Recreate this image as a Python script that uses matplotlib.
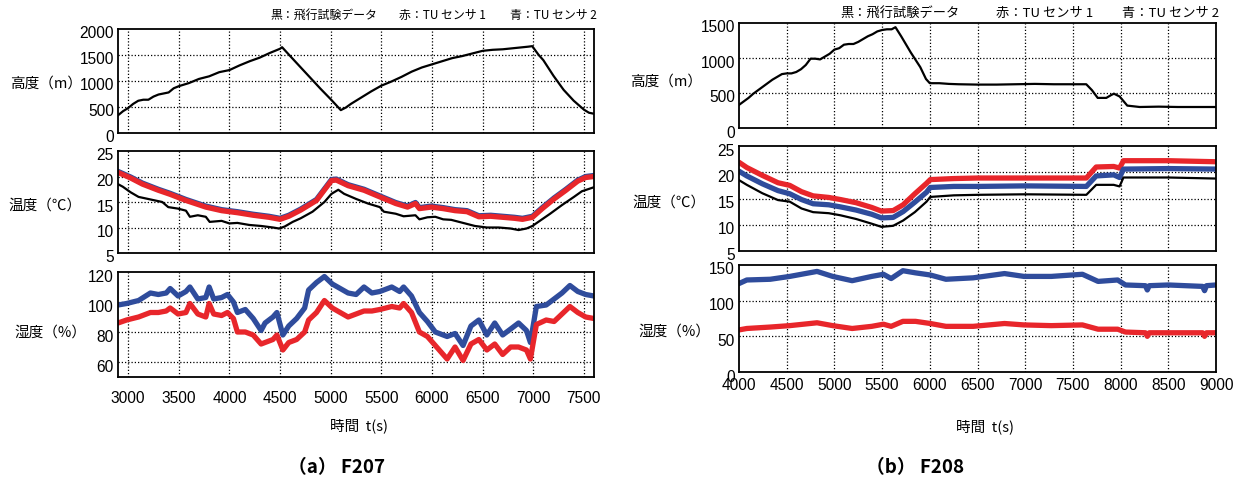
import matplotlib.pyplot as plt
from matplotlib.transforms import ScaledTranslation

plt.rcParams['font.family'] = ['Liberation Sans', 'Noto Sans CJK JP', 'DejaVu Sans']

W, H = 1234, 478
RED = '#e8262b'
BLUE = '#2f4c9c'
CJK = ['Noto Sans CJK JP', 'DejaVu Sans']

# ---- (a) F207 ----
t207_alt = [2900, 2950, 3000, 3050, 3100, 3150, 3200, 3250, 3300, 3350, 3400, 3450, 3500,
            3600, 3700, 3800, 3900, 4000, 4100, 4200, 4300, 4400, 4450, 4500, 4520, 4600,
            4700, 4800, 4900, 5000, 5100, 5150, 5200, 5300, 5400, 5500, 5600, 5700, 5800,
            5900, 6000, 6100, 6200, 6300, 6400, 6500, 6600, 6700, 6800, 6900, 6950, 6990,
            7050, 7100, 7200, 7300, 7400, 7500, 7550, 7600]
alt207 = [340, 420, 480, 560, 620, 640, 640, 700, 740, 760, 780, 860, 900,
          960, 1040, 1090, 1170, 1210, 1300, 1380, 1450, 1540, 1580, 1620, 1650, 1480,
          1270, 1060, 850, 650, 440, 490, 560, 680, 800, 910, 990, 1080, 1180,
          1260, 1320, 1380, 1440, 1480, 1530, 1580, 1600, 1610, 1630, 1650, 1660, 1670,
          1510, 1400, 1100, 830, 620, 450, 390, 370]

t207_tb = [2900, 2947, 3025, 3103, 3220, 3337, 3396, 3493, 3571, 3610, 3688, 3767, 3805,
           3923, 4000, 4079, 4196, 4313, 4430, 4490, 4547, 4625, 4703, 4821, 4938, 5008,
           5075, 5133, 5251, 5368, 5485, 5525, 5642, 5720, 5837, 5876, 5955, 6033, 6111,
           6190, 6307, 6424, 6542, 6659, 6777, 6855, 6933, 6992, 7050, 7167, 7284, 7402,
           7480, 7600]
temp207_black = [18.5, 18.0, 16.9, 16.0, 15.5, 15.0, 14.0, 13.7, 13.3, 12.1, 12.4, 12.1, 11.1,
                 11.3, 10.8, 10.9, 10.5, 10.3, 10.0, 9.8, 10.2, 11.1, 11.8, 13.1, 15.0, 16.6,
                 17.4, 16.6, 15.6, 14.7, 14.0, 13.1, 12.7, 12.2, 12.4, 11.6, 12.0, 12.1, 11.6,
                 11.5, 10.9, 10.3, 10.0, 10.0, 9.8, 9.5, 9.8, 10.3, 11.1, 12.7, 14.4, 16.0,
                 17.1, 17.9]

t207_ts = [2900, 3025, 3142, 3298, 3415, 3571, 3767, 3923, 4079, 4235, 4391, 4500, 4586,
           4703, 4860, 5008, 5055, 5172, 5329, 5485, 5642, 5759, 5837, 5876, 5993, 6111,
           6228, 6346, 6463, 6580, 6698, 6815, 6894, 6992, 7089, 7206, 7323, 7440, 7518, 7600]
temp207_red = [20.8, 19.7, 18.5, 17.3, 16.5, 15.3, 14.0, 13.3, 12.9, 12.4, 12.0, 11.6, 12.2,
               13.4, 15.3, 19.2, 19.3, 18.2, 17.3, 16.0, 14.7, 14.0, 14.7, 13.7, 14.0, 13.7,
               13.3, 13.1, 12.1, 12.2, 12.0, 11.8, 11.6, 12.0, 13.7, 15.6, 17.3, 19.1, 19.8, 20.0]
temp207_blue = [21.0, 19.9, 18.7, 17.5, 16.7, 15.5, 14.2, 13.5, 13.1, 12.6, 12.2, 11.8, 12.4,
                13.6, 15.5, 19.4, 19.5, 18.4, 17.5, 16.2, 14.9, 14.2, 14.9, 13.9, 14.2, 13.9,
                13.5, 13.3, 12.3, 12.4, 12.2, 12.0, 11.8, 12.2, 13.9, 15.8, 17.5, 19.3, 20.0, 20.2]

t207_h = [2900, 2985, 3103, 3220, 3298, 3376, 3415, 3493, 3571, 3610, 3688, 3767, 3800,
          3845, 3923, 3981, 4040, 4079, 4157, 4235, 4313, 4352, 4430, 4469, 4528, 4586,
          4664, 4743, 4782, 4860, 4938, 5016, 5094, 5172, 5251, 5329, 5407, 5485, 5603,
          5681, 5720, 5798, 5876, 5955, 6033, 6150, 6228, 6307, 6385, 6463, 6542, 6620,
          6698, 6777, 6855, 6933, 6972, 7031, 7128, 7206, 7284, 7362, 7440, 7518, 7600]
hum207_blue = [98, 99, 101, 106, 105, 106, 109, 104, 107, 110, 102, 103, 110,
               102, 103, 105, 100, 93, 95, 89, 81, 86, 90, 93, 78, 84,
               89, 96, 108, 113, 117, 112, 109, 106, 105, 110, 106, 107, 110,
               107, 110, 104, 93, 87, 80, 77, 79, 71, 84, 88, 78, 86,
               78, 82, 86, 81, 73, 97, 98, 102, 106, 111, 107, 105, 104]
hum207_red = [86, 88, 90, 93, 93, 94, 96, 92, 93, 99, 92, 90, 99,
              92, 91, 93, 89, 80, 80, 78, 72, 73, 75, 78, 68, 73,
              75, 80, 88, 93, 101, 96, 93, 90, 92, 94, 94, 95, 97,
              96, 99, 93, 80, 77, 71, 62, 70, 61, 72, 75, 68, 72,
              65, 70, 70, 68, 62, 85, 88, 87, 92, 97, 93, 90, 89]

# ---- (b) F208 ----
t208_alt = [4000, 4050, 4100, 4150, 4200, 4250, 4300, 4350, 4400, 4450, 4500, 4550, 4600,
            4650, 4700, 4750, 4800, 4850, 4900, 4950, 5000, 5050, 5100, 5150, 5200, 5250,
            5300, 5350, 5400, 5450, 5500, 5550, 5600, 5640, 5700, 5800, 5900, 5960, 6000,
            6100, 6200, 6300, 6500, 6700, 6900, 7100, 7300, 7500, 7640, 7700, 7760, 7850,
            7900, 7930, 7990, 8070, 8200, 8400, 8600, 8800, 9000]
alt208 = [330, 380, 430, 490, 540, 590, 640, 690, 730, 770, 780, 780, 800,
          840, 900, 990, 990, 980, 1020, 1060, 1120, 1140, 1190, 1200, 1200, 1230,
          1270, 1310, 1340, 1380, 1400, 1410, 1410, 1440, 1310, 1080, 870, 700, 640,
          640, 630, 625, 620, 620, 625, 630, 625, 625, 625, 540, 430, 430,
          470, 490, 450, 320, 300, 305, 300, 300, 300]

t208_t = [4000, 4082, 4245, 4409, 4532, 4655, 4777, 4941, 5064, 5227, 5391, 5493, 5616,
          5720, 5843, 5966, 6005, 6252, 6500, 7000, 7641, 7744, 7928, 7989, 8030, 8500, 9000]
temp208_black = [18.5, 17.6, 16.0, 14.7, 14.4, 13.1, 12.4, 12.2, 11.8, 11.1, 10.2, 9.6, 9.8,
                 10.8, 12.4, 14.4, 15.3, 15.6, 15.7, 15.8, 15.7, 17.6, 17.6, 17.3, 19.0, 19.0, 18.8]
temp208_blue = [20.2, 19.3, 17.8, 16.5, 15.9, 14.8, 14.0, 13.8, 13.4, 12.8, 12.0, 11.3, 11.4,
                12.5, 14.3, 16.2, 17.1, 17.3, 17.3, 17.4, 17.3, 19.3, 19.5, 19.0, 20.6, 20.7, 20.6]
temp208_red = [21.9, 20.9, 19.4, 18.0, 17.5, 16.3, 15.5, 15.2, 14.8, 14.2, 13.3, 12.6, 12.7,
               13.8, 15.9, 17.9, 18.6, 18.8, 18.9, 18.9, 18.9, 21.0, 21.1, 20.8, 22.2, 22.2, 22.0]

t208_h = [4000, 4082, 4327, 4532, 4818, 4982, 5186, 5391, 5514, 5595, 5718, 5850, 6005,
          6169, 6455, 6783, 6987, 7273, 7600, 7764, 7969, 8051, 8260, 8280, 8300, 8500,
          8860, 8880, 8900, 9000]
hum208_blue = [124, 129, 130, 134, 141, 134, 128, 134, 137, 131, 142, 139, 136,
               130, 132, 138, 134, 134, 137, 127, 129, 122, 121, 115, 121, 122,
               120, 114, 121, 122]
hum208_red = [59, 61, 63, 65, 69, 65, 61, 64, 67, 64, 71, 71, 68,
              64, 64, 68, 66, 65, 66, 60, 60, 56, 55, 50, 55, 55,
              55, 50, 55, 55]


def px_axes(x0, y0, x1, y1):
    return fig.add_axes([x0 / W, 1 - y1 / H, (x1 - x0) / W, (y1 - y0) / H])


def style(ax, xlim, xticks, ylim, yticks, show_x, xpad):
    ax.set_xlim(*xlim)
    ax.set_ylim(*ylim)
    ax.set_xticks(xticks)
    ax.set_yticks(yticks)
    ax.tick_params(length=0, labelsize=11.2, pad=3)
    ax.tick_params(axis='x', pad=xpad)
    if not show_x:
        ax.set_xticklabels([])
    # y labels sit a little below their grid line in the original
    shift = ScaledTranslation(0, -3.5 / 100, fig.dpi_scale_trans)
    for lab in ax.get_yticklabels():
        lab.set_transform(lab.get_transform() + shift)
    for s in ax.spines.values():
        s.set_linewidth(1.3)
    # grid only inside the box
    for x in xticks:
        if xlim[0] < x < xlim[1]:
            ax.axvline(x, color='black', lw=0.9, ls=(0, (1, 1.6)), zorder=1)
    for y in yticks:
        if ylim[0] < y < ylim[1]:
            ax.axhline(y, color='black', lw=0.9, ls=(0, (1, 1.6)), zorder=1)


fig = plt.figure(figsize=(W / 100, H / 100), dpi=100)

lw_thick = 3.8
lw_black = 1.6

# left panel
xt207 = list(range(3000, 7501, 500))
a1 = px_axes(118, 29, 594, 133)
a1.plot(t207_alt, alt207, color='black', lw=lw_black)
style(a1, (2900, 7600), xt207, (0, 2000), [0, 500, 1000, 1500, 2000], False, 9)

a2 = px_axes(118, 151, 594, 253)
a2.plot(t207_ts, temp207_blue, color=BLUE, lw=lw_thick, solid_capstyle='round')
a2.plot(t207_ts, temp207_red, color=RED, lw=lw_thick, solid_capstyle='round')
a2.plot(t207_tb, temp207_black, color='black', lw=lw_black)
style(a2, (2900, 7600), xt207, (5, 25), [5, 10, 15, 20, 25], False, 9)

a3 = px_axes(118, 272, 594, 377)
a3.plot(t207_h, hum207_blue, color=BLUE, lw=lw_thick, solid_capstyle='round')
a3.plot(t207_h, hum207_red, color=RED, lw=lw_thick, solid_capstyle='round')
style(a3, (2900, 7600), xt207, (50, 120), [60, 80, 100, 120], True, 10)

# right panel
xt208 = list(range(4000, 9001, 500))
b1 = px_axes(739, 23, 1216, 128)
b1.plot(t208_alt, alt208, color='black', lw=lw_black)
style(b1, (4000, 9000), xt208, (0, 1500), [0, 500, 1000, 1500], False, 5)

b2 = px_axes(739, 146, 1216, 251)
b2.plot(t208_t, temp208_red, color=RED, lw=lw_thick, solid_capstyle='round')
b2.plot(t208_t, temp208_blue, color=BLUE, lw=lw_thick, solid_capstyle='round')
b2.plot(t208_t, temp208_black, color='black', lw=lw_black)
style(b2, (4000, 9000), xt208, (5, 25), [5, 10, 15, 20, 25], False, 5)

b3 = px_axes(739, 265, 1216, 372)
b3.plot(t208_h, hum208_blue, color=BLUE, lw=lw_thick, solid_capstyle='round')
b3.plot(t208_h, hum208_red, color=RED, lw=lw_thick, solid_capstyle='round')
style(b3, (4000, 9000), xt208, (0, 150), [0, 50, 100, 150], True, 4)


def ftext(x, y, s, **kw):
    fig.text(x / W, 1 - y / H, s, family=CJK, va='center', **kw)


# legend-like captions
ftext(270, 15, '黒：飛行試験データ', fontsize=8.6)
ftext(399, 15, '赤：TU センサ 1', fontsize=8.6)
ftext(510, 15, '青：TU センサ 2', fontsize=8.6)
ftext(840, 13, '黒：飛行試験データ', fontsize=9.5)
ftext(996, 13, '赤：TU センサ 1', fontsize=9.5)
ftext(1122, 13, '青：TU センサ 2', fontsize=9.5)

# y labels
ftext(10, 84, '高度（m）', fontsize=10.5)
ftext(8, 206, '温度（℃）', fontsize=10.5)
ftext(14, 333, '湿度（%）', fontsize=10.5)
ftext(630, 82, '高度（m）', fontsize=10.5)
ftext(632, 203, '温度（℃）', fontsize=10.5)
ftext(638, 332, '湿度（%）', fontsize=10.5)

# x labels and captions
ftext(359, 426, '時間  t(s)', fontsize=10.5, ha='center')
ftext(985, 427, '時間  t(s)', fontsize=10.5, ha='center')
ftext(337, 468, '（a） F207', fontsize=13.5, fontweight='bold', ha='center')
ftext(915, 468, '（b） F208', fontsize=13.5, fontweight='bold', ha='center')

plt.savefig('out.png', dpi=100)
